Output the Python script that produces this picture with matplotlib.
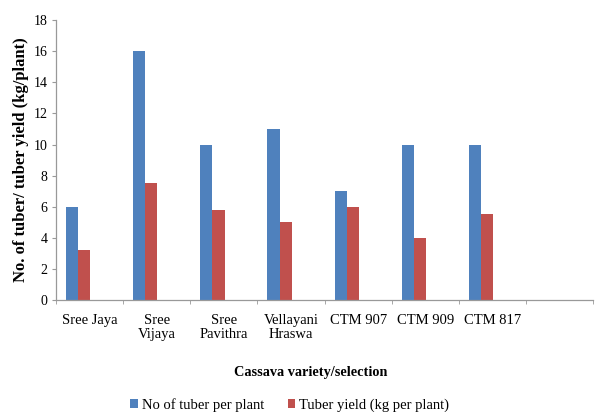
import numpy as np
import matplotlib.pyplot as plt

# Data
varieties = ["Sree Jaya", "Sree\nVijaya", "Sree\nPavithra", "Vellayani\nHraswa",
             "CTM 907", "CTM 909", "CTM 817", ""]
tubers = [6, 16, 10, 11, 7, 10, 10]
yield_kg = [3.2, 7.5, 5.8, 5.0, 6.0, 4.0, 5.5]

blue = "#4F81BD"
red = "#C0504D"

plt.rcParams['font.family'] = ['Liberation Serif', 'DejaVu Serif']

fig = plt.figure(figsize=(5.95, 4.12), dpi=100)
ax = fig.add_axes([0.094, 0.272, 0.903, 0.679])

x = np.arange(len(tubers))
w = 0.18
ax.bar(x - 0.26, tubers, w, color=blue, label="No of tuber per plant")
ax.bar(x - 0.08, yield_kg, w, color=red, label="Tuber yield (kg per plant)")

ax.set_xlim(-0.5, len(varieties) - 0.5)
ax.set_ylim(0, 18)
ax.set_yticks(np.arange(0, 19, 2))
ax.tick_params(axis='y', labelsize=10, length=3, color="#999999", pad=3)

# category labels centred, tick marks at slot boundaries
ax.set_xticks(np.arange(len(varieties)))
ax.set_xticklabels(varieties, fontsize=10.5, linespacing=1.1)
ax.tick_params(axis='x', length=0, pad=10)
ax.set_xticks(np.arange(len(varieties) + 1) - 0.5, minor=True)
ax.tick_params(axis='x', which='minor', length=3, color="#999999")

for s in ["top", "right"]:
    ax.spines[s].set_visible(False)
for s in ["left", "bottom"]:
    ax.spines[s].set_color("#999999")
    ax.spines[s].set_linewidth(0.9)

ax.set_ylabel("No. of tuber/ tuber yield (kg/plant)", fontsize=12, fontweight='bold', labelpad=3)
fig.text(0.523, 0.097, "Cassava variety/selection", fontsize=10.3, fontweight='bold', ha='center', va='center')

fig.legend(loc='center', bbox_to_anchor=(0.487, 0.017), ncol=2, frameon=False, fontsize=10.5,
           handlelength=0.5, handleheight=0.5, handletextpad=0.3, columnspacing=1.6)

fig.savefig("out.png", dpi=100)
